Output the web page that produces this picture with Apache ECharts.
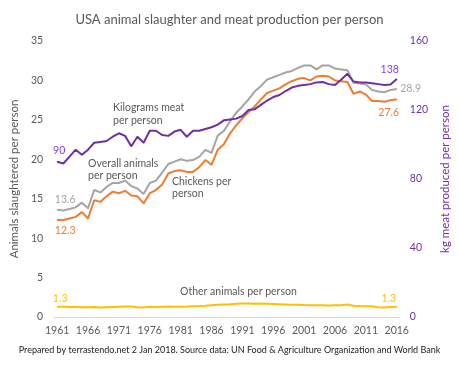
<!DOCTYPE html>
<html><head><meta charset="utf-8">
<script src="https://cdn.jsdelivr.net/npm/echarts@6/dist/echarts.min.js"></script>
<style>html,body{margin:0;padding:0;background:#fff}#c{width:459px;height:371px}</style>
</head><body><div id="c"></div>
<script>
const years = ['1961','1962','1963','1964','1965','1966','1967','1968','1969','1970',
'1971','1972','1973','1974','1975','1976','1977','1978','1979','1980',
'1981','1982','1983','1984','1985','1986','1987','1988','1989','1990',
'1991','1992','1993','1994','1995','1996','1997','1998','1999','2000',
'2001','2002','2003','2004','2005','2006','2007','2008','2009','2010',
'2011','2012','2013','2014','2015','2016'];
const xTickLabels = ['1961','1966','1971','1976','1981','1986','1991','1996','2001','2006','2011','2016'];
const overallAnimals = [13.6,13.5,13.7,13.9,14.5,13.8,16.1,15.8,16.5,17.0,
17.0,17.3,16.6,16.3,15.6,17.0,17.3,18.3,19.4,19.7,
20.0,19.8,19.9,20.3,21.2,20.8,23.0,23.6,24.8,25.9,
26.7,27.6,28.6,29.3,30.1,30.4,30.7,31.0,31.2,31.6,
31.9,31.9,31.4,31.9,31.9,31.5,31.4,31.3,29.7,29.6,
29.5,28.8,28.6,28.5,28.8,28.9];
const chickens = [12.3,12.3,12.5,12.7,13.3,12.5,14.8,14.6,15.3,15.9,
15.7,16.0,15.4,15.3,14.4,15.7,16.1,16.8,18.2,18.5,
18.6,18.4,18.4,19.0,19.9,19.3,21.2,21.9,23.3,24.3,
25.2,26.0,26.7,27.6,28.4,28.7,29.0,29.5,29.9,30.2,
30.3,30.0,30.5,30.6,30.5,30.0,29.9,29.8,28.3,28.6,
28.2,27.4,27.4,27.3,27.5,27.6];
const otherAnimals = [1.3,1.3,1.28,1.27,1.25,1.25,1.27,1.22,1.25,1.28,
1.3,1.32,1.33,1.25,1.22,1.3,1.28,1.3,1.32,1.3,
1.3,1.32,1.35,1.38,1.42,1.5,1.55,1.6,1.62,1.68,
1.72,1.7,1.68,1.7,1.68,1.66,1.63,1.6,1.56,1.55,
1.52,1.5,1.5,1.48,1.45,1.48,1.5,1.58,1.42,1.38,
1.36,1.35,1.25,1.22,1.28,1.3];
const kgMeat = [90,89,93,97,94,97,101,101.5,102,104.5,
106.5,105,99,104.5,101,108,108,105.5,105,107.5,
108.5,104.5,108,108,109,110,111.5,114,114.5,115,
116.5,120,120.5,123,125.5,127.5,128.7,131,133,134,
134.5,135,136,136.2,135,134.5,137.5,141,136.5,136,
136,135.5,135,134.5,134.8,138];

const FONT = 'Lato';
const GREY = '#a5a5a5', ORANGE = '#ed7d31', YELLOW = '#ffc000', PURPLE = '#7030a0';
const TXT = '#595959';

function withEndLabels(arr, color, first, last) {
  return arr.map((v, i) => {
    if (i === 0 && first) return {value: v, label: Object.assign({show: true, color: color, fontFamily: FONT, fontSize: 10.5}, first)};
    if (i === arr.length - 1 && last) return {value: v, label: Object.assign({show: true, color: color, fontFamily: FONT, fontSize: 10.5}, last)};
    return v;
  });
}

function lineSeries(name, data, color, axis) {
  return {
    name: name, type: 'line', yAxisIndex: axis,
    symbol: 'circle', symbolSize: 1, showAllSymbol: true,
    lineStyle: {color: color, width: 2}, itemStyle: {color: color},
    label: {show: false},
    data: data
  };
}

const chart = echarts.init(document.getElementById('c'), null, {renderer: 'canvas'});
chart.setOption({
  animation: false,
  backgroundColor: '#fff',
  title: {
    text: 'USA animal slaughter and meat production per person',
    left: 'center', top: 8,
    textStyle: {fontFamily: FONT, fontSize: 13, fontWeight: 'normal', color: TXT}
  },
  grid: {left: 46, right: 52, top: 41, bottom: 54},
  xAxis: {
    type: 'category', data: years, boundaryGap: true,
    axisLine: {lineStyle: {color: '#d9d9d9', width: 1}},
    axisTick: {show: false},
    axisLabel: {
      interval: 0, color: TXT, fontFamily: FONT, fontSize: 10.5, margin: 8,
      formatter: v => xTickLabels.indexOf(v) >= 0 ? v : ''
    }
  },
  yAxis: [{
    type: 'value', min: 0, max: 35, interval: 5,
    name: 'Animals slaughtered per person', nameLocation: 'middle', nameGap: 27,
    nameTextStyle: {fontFamily: FONT, fontSize: 11.5, color: TXT},
    axisLine: {show: false}, axisTick: {show: false}, splitLine: {show: false},
    axisLabel: {color: TXT, fontFamily: FONT, fontSize: 10.5, margin: 11}
  }, {
    type: 'value', min: 0, max: 160, interval: 40,
    name: 'kg meat produced per person', nameLocation: 'middle', nameGap: 36,
    nameTextStyle: {fontFamily: FONT, fontSize: 11.5, color: PURPLE},
    axisLine: {show: false}, axisTick: {show: false}, splitLine: {show: false},
    axisLabel: {color: PURPLE, fontFamily: FONT, fontSize: 10.5, margin: 10}
  }],
  series: [
    lineSeries('Overall animals per person', withEndLabels(overallAnimals, GREY,
      {position: 'top', distance: 4, offset: [8, 0]},
      {position: 'right', distance: 3}), GREY, 0),
    lineSeries('Chickens per person', withEndLabels(chickens, ORANGE,
      {position: 'bottom', distance: 5, offset: [8, 0]},
      {position: 'bottom', distance: 7, offset: [-8, 0]}), ORANGE, 0),
    lineSeries('Other animals per person', withEndLabels(otherAnimals, YELLOW,
      {position: 'top', distance: 2, offset: [3, 0]},
      {position: 'top', distance: 2, offset: [-8, 0]}), YELLOW, 0),
    lineSeries('Kilograms meat per person', withEndLabels(kgMeat, '#8a3fe0',
      {position: 'top', distance: 5, offset: [2, 0]},
      {position: 'top', distance: 3, offset: [-7, 0]}), PURPLE, 1)
  ],
  graphic: [
    {type: 'text', left: 113, top: 101, style: {text: 'Kilograms meat\nper person', fill: TXT, font: '10.5px ' + FONT, lineHeight: 13}},
    {type: 'text', left: 88, top: 158, style: {text: 'Overall animals\nper person', fill: TXT, font: '10.5px ' + FONT, lineHeight: 12}},
    {type: 'text', left: 172, top: 176, style: {text: 'Chickens per\nperson', fill: TXT, font: '10.5px ' + FONT, lineHeight: 12}},
    {type: 'text', left: 180, top: 286, style: {text: 'Other animals per person', fill: TXT, font: '10.5px ' + FONT}},
    {type: 'text', left: 'center', top: 346, style: {text: 'Prepared by terrastendo.net 2 Jan 2018. Source data: UN Food & Agriculture Organization and World Bank', fill: '#222', font: '9px ' + FONT}}
  ]
});
</script>
</body></html>
